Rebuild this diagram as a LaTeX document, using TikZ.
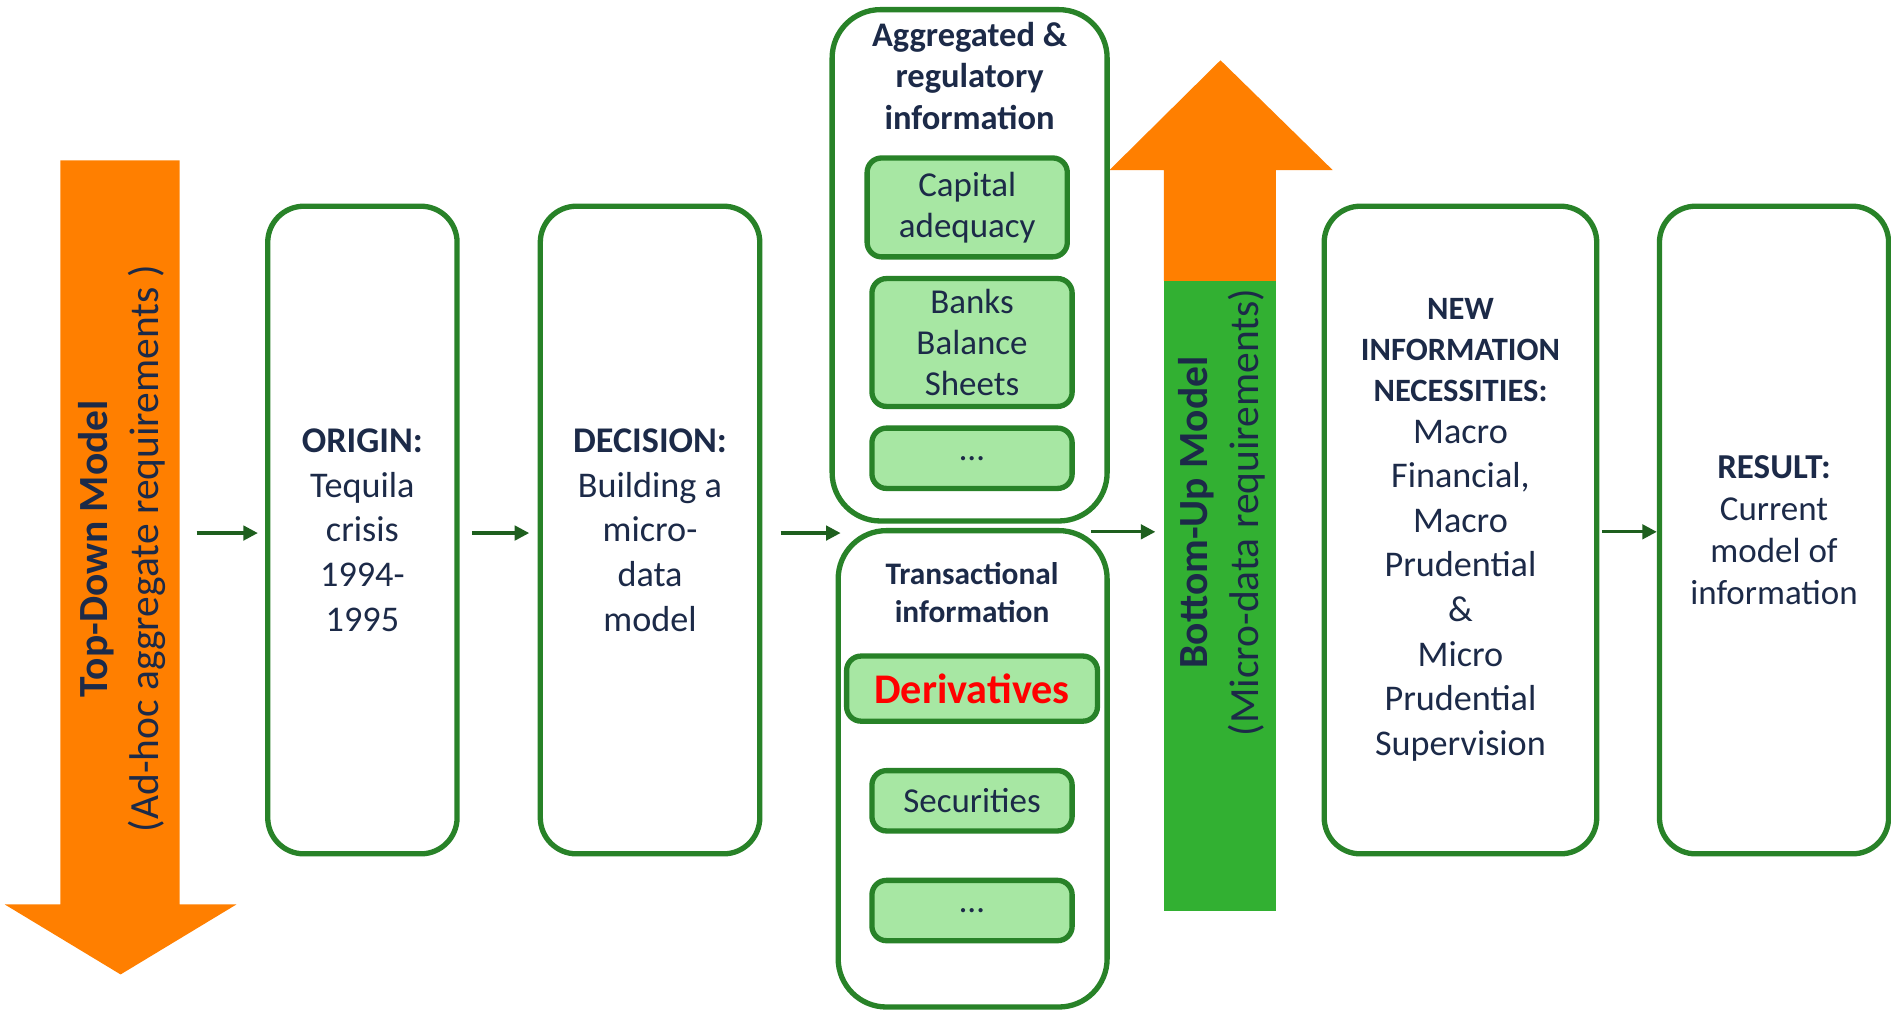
\documentclass[tikz,border=0pt]{standalone}
\usepackage{fontspec}
\setmainfont{Carlito}
\usetikzlibrary{arrows.meta}
\definecolor{bord}{RGB}{40,130,40}
\definecolor{lfill}{RGB}{167,231,163}
\definecolor{orng}{RGB}{255,127,0}
\definecolor{bgreen}{RGB}{50,176,50}
\definecolor{conn}{RGB}{30,95,30}
\definecolor{txt}{RGB}{28,42,72}
\begin{document}
\begin{tikzpicture}[x=0.5pt,y=-0.5pt,
 mainbox/.style={draw=bord,line width=2.2pt,rounded corners=15pt,fill=white,inner sep=0pt,text=txt,align=center,font=\fontsize{15}{18.5}\selectfont},
 subbox/.style={draw=bord,line width=2.2pt,rounded corners=6pt,fill=lfill,inner sep=0pt,text=txt,align=center,font=\fontsize{14.5}{16.8}\selectfont,minimum width=83pt},
 link/.style={draw=conn,line width=1.3pt,-{Triangle[length=6pt,width=6pt]}},
 bigtext/.style={rotate=90,align=center,text=txt,font=\fontsize{17.2}{21}\selectfont,inner sep=0pt},
 titletext/.style={align=center,text=txt,inner sep=0pt}
]
\useasboundingbox (0,0) rectangle (1568,838);

% Top-down arrow
\fill[orng] (50,133) -- (149,133) -- (149,750) -- (196,750) -- (100,808) -- (4,750) -- (50,750) -- cycle;
\node[bigtext] (tdtext) at (101,455) {\textbf{Top-Down Model}\\(Ad-hoc aggregate requirements )};
\coordinate (tdR) at (149,442);

% Bottom-up arrow
\fill[orng] (965,233) -- (965,141) -- (920,141) -- (1012,50) -- (1105,141) -- (1058,141) -- (1058,233) -- cycle;
\fill[bgreen] (965,233) -- (1058,233) -- (1058,755) -- (965,755) -- cycle;
\node[bigtext] (butext) at (1013,425) {\textbf{Bottom-Up Model}\\(Micro-data requirements)};
\coordinate (buL) at (965,441);

% Main boxes
\node[mainbox,minimum width=78.5pt,minimum height=268.5pt] (origin) at (300.5,439.5)
 {\textbf{ORIGIN:}\\Tequila\\crisis\\1994-\\1995};
\node[mainbox,minimum width=91pt,minimum height=268.5pt] (decision) at (539,439.5)
 {\textbf{DECISION:}\\Building a\\micro-\\data\\model};
\node[mainbox,minimum width=113pt,minimum height=268.5pt] (new) at (1211,439.5)
 {{\fontsize{13.5}{17}\selectfont\bfseries NEW}\\[-1.5pt]{\fontsize{13.5}{17}\selectfont\bfseries INFORMATION}\\[-1.5pt]{\fontsize{13.5}{17}\selectfont\bfseries NECESSITIES:}\\[-1.5pt]Macro\\Financial,\\Macro\\Prudential\\\&\\Micro\\Prudential\\Supervision};
\node[mainbox,minimum width=95pt,minimum height=268.5pt,font=\fontsize{14.5}{17.5}\selectfont] (result) at (1471,439.5)
 {\textbf{RESULT:}\\Current\\model of\\information};

% Aggregated box
\node[mainbox,rounded corners=20pt,minimum width=114pt,minimum height=212pt] (agg) at (804,220) {};
\node[titletext,font=\fontsize{14.3}{17.3}\selectfont\bfseries] (aggtitle) at (804,63) {Aggregated \&\\regulatory\\information};
\node[subbox,minimum height=41pt] (capital) at (802,172) {Capital\\adequacy};
\node[subbox,minimum height=53pt] (banks) at (806,284) {Banks\\Balance\\Sheets};
\node[subbox,minimum height=25pt] (dotsA) at (806,380) {\dots};

% Transactional box
\node[mainbox,rounded corners=20pt,minimum width=111.5pt,minimum height=197.5pt] (trans) at (806.5,637.5) {};
\node[titletext,font=\fontsize{13}{15.5}\selectfont\bfseries] (transtitle) at (806,491.5) {Transactional\\information};
\node[subbox,minimum width=104pt,minimum height=27pt,text=red,font=\fontsize{17.5}{20}\selectfont\bfseries] (deriv) at (806,571) {Derivatives};
\node[subbox,minimum height=25pt] (secur) at (806,664) {Securities};
\node[subbox,minimum height=25pt] (dotsB) at (806,755) {\dots};

\coordinate (infoL) at (697,442);
\coordinate (infoR) at (905,441);

% Connectors
\draw[link,shorten <=7pt,shorten >=3pt] (tdR) -- (tdR -| origin.west);
\draw[link,shorten <=5pt,shorten >=3.5pt] (origin.east |- tdR) -- (decision.west |- tdR);
\draw[link,shorten <=7.5pt] (decision.east |- infoL) -- (infoL);
\draw[link,shorten >=3.5pt] (infoR) -- (buL);
\draw[link,shorten <=1pt] (new.east |- buL) -- (result.west |- buL);
\end{tikzpicture}
\end{document}
